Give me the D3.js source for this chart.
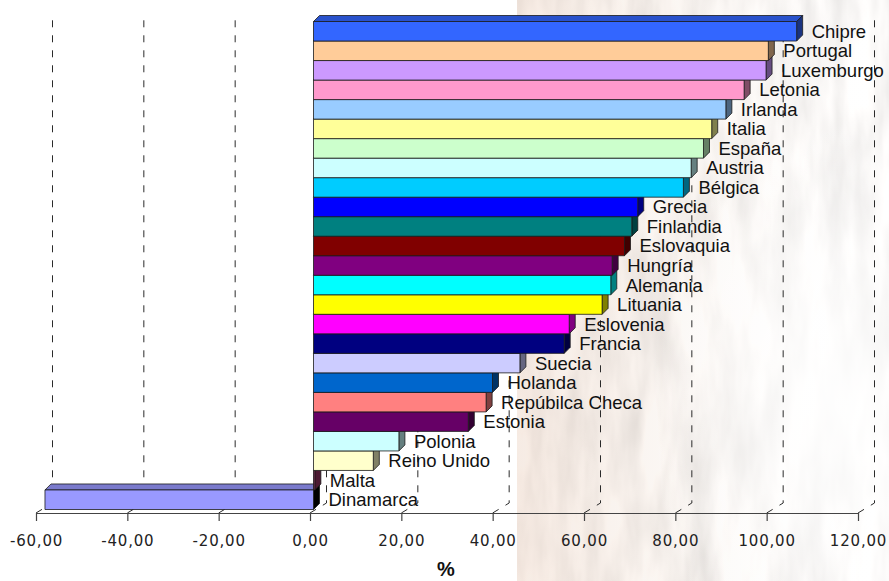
<!DOCTYPE html>
<html>
<head>
<meta charset="utf-8">
<script src="https://cdn.jsdelivr.net/npm/d3@7"></script>
<style>
  html, body { margin: 0; padding: 0; background: #ffffff; }
  svg { display: block; }
</style>
</head>
<body>
<div id="chart"></div>
<script>
// Countries, top to bottom
const categories = [
  "Chipre", "Portugal", "Luxemburgo", "Letonia", "Irlanda", "Italia", "España",
  "Austria", "Bélgica", "Grecia", "Finlandia", "Eslovaquia", "Hungría", "Alemania",
  "Lituania", "Eslovenia", "Francia", "Suecia", "Holanda", "Repúbilca Checa",
  "Estonia", "Polonia", "Reino Unido", "Malta", "Dinamarca"
];

// Percentage per country
const values = [
  105.8, 99.6, 99.1, 94.3, 90.3, 87.2, 85.4,
  82.7, 81.0, 71.0, 69.7, 68.1, 65.4, 65.1,
  63.2, 56.0, 54.9, 45.2, 39.2, 37.8,
  33.9, 18.7, 13.1, 0.3, -58.8
];

// Fill of each bar's front face
const barColors = [
  "#3366FF", "#FFCC99", "#CC99FF", "#FF99CC", "#99CCFF", "#FFFF99", "#CCFFCC",
  "#CCFFFF", "#00CCFF", "#0000FF", "#008080", "#800000", "#800080", "#00FFFF",
  "#FFFF00", "#FF00FF", "#000080", "#CCCCFF", "#0066CC", "#FF8080",
  "#660066", "#CCFFFF", "#FFFFCC", "#993366", "#9999FF"
];

// Axis ticks
const tickValues = [-60, -40, -20, 0, 20, 40, 60, 80, 100, 120];
const axisTitle = "%";

const W = 889, H = 581;
const svg = d3.select("#chart").append("svg")
  .attr("width", W).attr("height", H)
  .attr("viewBox", `0 0 ${W} ${H}`);

// ---- background: washed-out bark texture on the right-hand side ----
const defs = svg.append("defs");
const f = defs.append("filter").attr("id", "bark")
  .attr("x", 0).attr("y", 0).attr("width", 1).attr("height", 1);
f.append("feTurbulence")
  .attr("type", "fractalNoise")
  .attr("baseFrequency", "0.035 0.008")
  .attr("numOctaves", 4)
  .attr("seed", 11)
  .attr("result", "n");
f.append("feColorMatrix").attr("type", "matrix")
  .attr("values", "0.42 0 0 0 0.74  0.42 0 0 0 0.725  0.42 0 0 0 0.715  0 0 0 0 1");

const warm = defs.append("linearGradient").attr("id", "warm")
  .attr("x1", 0).attr("y1", 0).attr("x2", 1).attr("y2", 0);
warm.append("stop").attr("offset", 0).attr("stop-color", "rgb(205,145,105)").attr("stop-opacity", 0.18);
warm.append("stop").attr("offset", 0.5).attr("stop-color", "rgb(210,170,135)").attr("stop-opacity", 0.07);
warm.append("stop").attr("offset", 1).attr("stop-color", "#ffffff").attr("stop-opacity", 0.0);

const glow = defs.append("radialGradient").attr("id", "glow")
  .attr("cx", 0.85).attr("cy", 0.7).attr("r", 0.5);
glow.append("stop").attr("offset", 0).attr("stop-color", "#ffffff").attr("stop-opacity", 0.9);
glow.append("stop").attr("offset", 1).attr("stop-color", "#ffffff").attr("stop-opacity", 0);

const bgX = 517;
svg.append("rect").attr("x", bgX).attr("y", 0).attr("width", W - bgX).attr("height", H)
  .attr("fill", "#eee").attr("filter", "url(#bark)");
svg.append("rect").attr("x", bgX).attr("y", 0).attr("width", W - bgX).attr("height", H)
  .attr("fill", "url(#warm)");
svg.append("rect").attr("x", bgX).attr("y", 0).attr("width", W - bgX).attr("height", H)
  .attr("fill", "url(#glow)");

// ---- scales ----
const axisY = 513;          // front floor edge
const wallDX = 16.5, wallDY = -10;   // offset from front floor to back wall
const barDX = 3.5, barDY = -3.5;     // bars sit slightly behind the front edge
const depth = 6;                     // bar thickness in the 3D view
const gridTop = 18;

const x = d3.scaleLinear().domain([-60, 120]).range([36, 858]);
const y = d3.scaleBand().domain(categories).range([21.5, axisY + barDY]).padding(0);

const locale = d3.formatLocale({ decimal: ",", thousands: ".", grouping: [3], currency: ["", "€"], minus: "-" });
const fmt = locale.format(".2f");

// ---- back-wall gridlines with their floor diagonals ----
const grid = svg.append("g").attr("fill", "none").attr("stroke", "#2a2a2a")
  .attr("stroke-width", 1).attr("stroke-dasharray", "7,8");
tickValues.forEach(v => {
  const x0 = x(v);
  grid.append("path")
    .attr("d", `M${x0},${axisY} L${x0 + wallDX},${axisY + wallDY} L${x0 + wallDX},${gridTop}`);
});

// ---- axis ----
const axis = d3.axisBottom(x).tickValues(tickValues).tickSize(8).tickSizeOuter(0).tickFormat(fmt);
const gAxis = svg.append("g").attr("transform", `translate(0,${axisY})`).call(axis);
gAxis.select(".domain").attr("stroke", "#444").attr("stroke-width", 1.2);
gAxis.selectAll(".tick line").attr("stroke", "#444").attr("stroke-width", 1.2);
gAxis.selectAll(".tick text")
  .attr("y", 32.7).attr("dy", null)
  .attr("fill", "#222")
  .style("font-family", "'DejaVu Sans', Verdana, sans-serif")
  .style("font-size", "15px")
  .style("letter-spacing", "0.8px");

// ---- 3D bars, drawn from the bottom row up so upper bars cover lower tops ----
const rows = categories.map((c, i) => ({ c, v: values[i], col: barColors[i] }));
const bars = svg.append("g").attr("stroke", "#1a1a1a").attr("stroke-width", 0.8)
  .attr("stroke-linejoin", "round");

rows.slice().reverse().forEach(r => {
  const xa = Math.min(x(0), x(r.v)) + barDX;
  const xb = Math.max(x(0), x(r.v)) + barDX;
  const yt = y(r.c);
  const yb = yt + y.bandwidth();
  const base = d3.color(r.col);
  const dk = k => d3.rgb(base.r * k, base.g * k, base.b * k).formatHex();
  const sideCol = r.v < 0 ? "#000000" : dk(0.5);
  const topCol = dk(0.8);
  // top face
  bars.append("path").attr("fill", topCol)
    .attr("d", `M${xa},${yt} L${xa + depth},${yt - depth} L${xb + depth},${yt - depth} L${xb},${yt} Z`);
  // right end face
  bars.append("path").attr("fill", sideCol)
    .attr("d", `M${xb},${yt} L${xb + depth},${yt - depth} L${xb + depth},${yb - depth} L${xb},${yb} Z`);
  // front face
  bars.append("rect").attr("fill", r.col)
    .attr("x", xa).attr("y", yt).attr("width", xb - xa).attr("height", y.bandwidth());
});

// ---- category labels at the bar ends ----
svg.append("g")
  .selectAll("text").data(rows).join("text")
  .attr("x", d => Math.max(x(0), x(d.v)) + barDX + 15)
  .attr("y", d => y(d.c) + y.bandwidth() / 2 + 6.5)
  .attr("fill", "#111")
  .style("font-family", "Arial, 'Liberation Sans', sans-serif")
  .style("font-size", "18.5px")
  .text(d => d.c);

// ---- axis title ----
svg.append("text")
  .attr("x", 446).attr("y", 576)
  .attr("text-anchor", "middle")
  .attr("fill", "#111")
  .style("font-family", "Arial, 'Liberation Sans', sans-serif")
  .style("font-size", "20px")
  .style("font-weight", "bold")
  .text(axisTitle);
</script>
</body>
</html>
